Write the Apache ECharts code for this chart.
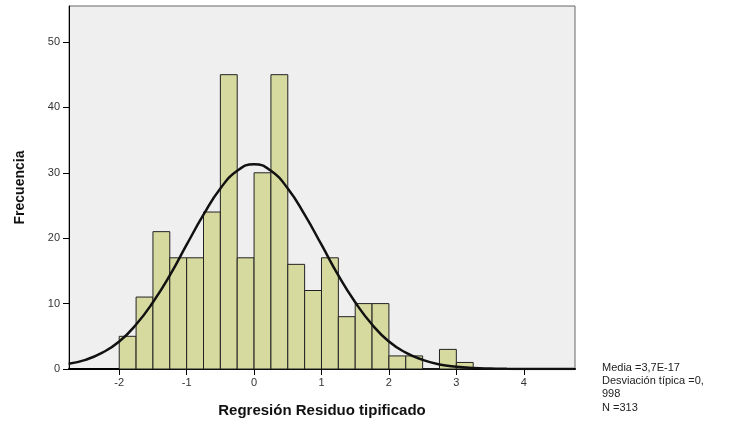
<!DOCTYPE html>
<html><head><meta charset="utf-8">
<script src="https://cdn.jsdelivr.net/npm/echarts@6/dist/echarts.min.js"></script>
<style>html,body{margin:0;padding:0;background:#fff}#c{width:730px;height:432px}</style>
</head><body><div id="c"></div>
<script>
// Histogram bins (start of each bin, width 0.25)
const binStarts = [-2,-1.75,-1.5,-1.25,-1,-0.75,-0.5,-0.25,0,0.25,0.5,0.75,1,1.25,1.5,1.75,2,2.25,2.5,2.75,3];
const binCounts = [5,11,21,17,17,24,45,17,30,45,16,12,17,8,10,10,2,2,0,3,1];
const binWidth = 0.25;
// Normal curve
const curveX = [-2.75,-2.5,-2.25,-2,-1.75,-1.5,-1.25,-1,-0.75,-0.5,-0.25,0,0.25,0.5,0.75,1,1.25,1.5,1.75,2,2.25,2.5,2.75,3,3.25,3.5,3.75,4,4.25,4.5,4.75];
const curveY = [0.8,1.4,2.5,4.2,6.8,10.2,14.3,19.0,23.6,27.6,30.3,31.3,30.3,27.6,23.6,19.0,14.3,10.2,6.8,4.2,2.5,1.4,0.7,0.35,0.16,0.07,0.03,0.01,0,0,0];
const xTicks = [-2,-1,0,1,2,3,4];
const yTicks = [0,10,20,30,40,50];
const legendLines = ['Media =3,7E-17','Desviación típica =0,','998','N =313'];

const chart = echarts.init(document.getElementById('c'));
const barData = binStarts.map((s,i)=>[s, s+binWidth, binCounts[i]]);
chart.setOption({
  animation:false,
  backgroundColor:'#ffffff',
  grid:{left:69,top:6,right:155,bottom:63,show:true,backgroundColor:'#efefef',borderColor:'#666',borderWidth:1},
  xAxis:{type:'value',min:-2.745,max:4.76,
    axisLine:{show:true,onZero:false,lineStyle:{color:'#000',width:2}},
    axisTick:{show:true,customValues:xTicks,length:6,lineStyle:{color:'#000',width:1}},
    axisLabel:{customValues:xTicks,color:'#333',fontFamily:'Liberation Sans',fontSize:11,margin:8},
    splitLine:{show:false},
    name:'Regresión Residuo tipificado',nameLocation:'middle',nameGap:34,
    nameTextStyle:{fontFamily:'Liberation Sans',fontWeight:'bold',fontSize:15,color:'#111'}},
  yAxis:{type:'value',min:0,max:55.5,
    axisLine:{show:true,onZero:false,lineStyle:{color:'#000',width:1}},
    axisTick:{show:true,customValues:yTicks,length:6,lineStyle:{color:'#000'}},
    axisLabel:{customValues:yTicks,color:'#333',fontFamily:'Liberation Sans',fontSize:11,margin:9},
    splitLine:{show:false},
    name:'Frecuencia',nameLocation:'middle',nameGap:42,
    nameTextStyle:{fontFamily:'Liberation Sans',fontWeight:'bold',fontSize:14,color:'#111'}},
  series:[
    {type:'custom',data:barData,encode:{x:[0,1],y:2},z:2,
      renderItem:function(params,api){
        const p0=api.coord([api.value(0),0]);
        const p1=api.coord([api.value(1),api.value(2)]);
        return {type:'rect',shape:{x:p0[0],y:p1[1],width:p1[0]-p0[0],height:p0[1]-p1[1]},
          style:{fill:'#d7da9f',stroke:'#222',lineWidth:1}};
      }},
    {type:'line',data:curveX.map((x,i)=>[x,curveY[i]]),smooth:true,symbol:'none',z:3,
      lineStyle:{color:'#111',width:2.5}}
  ],
  graphic:[{type:'text',left:602,top:361,style:{text:legendLines.join('\n'),fill:'#222',
    font:'11px "Liberation Sans"',lineHeight:13.3}}]
});
</script></body></html>
